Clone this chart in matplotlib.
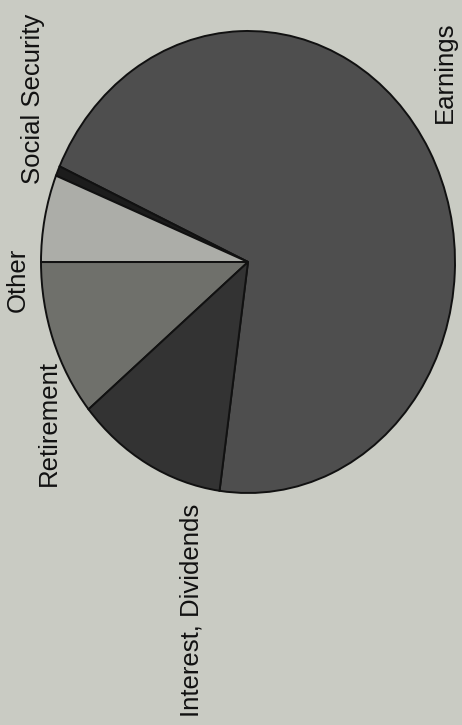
import matplotlib
matplotlib.use("Agg")
import matplotlib.pyplot as plt

# income shares (percent)
sources = ["Earnings", "Social Security", "Other", "Retirement",
           "Interest, Dividends"]
shares = [70.4, 0.7, 6.1, 11.0, 11.8]
colors = ["#4e4e4e", "#1c1c1c", "#acada8", "#6f706b", "#333333"]

BG = "#c9cbc3"
W, H = 462, 725

fig = plt.figure(figsize=(W / 100, H / 100), dpi=100, facecolor=BG)

# pie sits in its own axes, stretched to the slightly tall ellipse of the scan
cx, cy, rx, ry = 248, 262, 207, 231
ax = fig.add_axes([(cx - rx) / W, 1 - (cy + ry) / H, 2 * rx / W, 2 * ry / H])
ax.pie(shares, colors=colors, startangle=262.1, counterclock=True,
       wedgeprops=dict(edgecolor="#111111", linewidth=1.4))
ax.set_aspect("auto")
ax.set_xlim(-1.0, 1.0)
ax.set_ylim(-1.0, 1.0)
ax.axis("off")

# labels, rotated like the page in the scan (pixel positions)
label_xy = {"Earnings": (445, 72),
            "Social Security": (33, 99),
            "Other": (18, 280),
            "Retirement": (49, 423),
            "Interest, Dividends": (192, 610)}
for name in sources:
    x, y = label_xy[name]
    fig.text(x / W, 1 - y / H, name, rotation=90, ha="center", va="center",
             fontsize=18.5, family="Liberation Sans", color="#111111")

fig.savefig("out.png", dpi=100, facecolor=BG)
